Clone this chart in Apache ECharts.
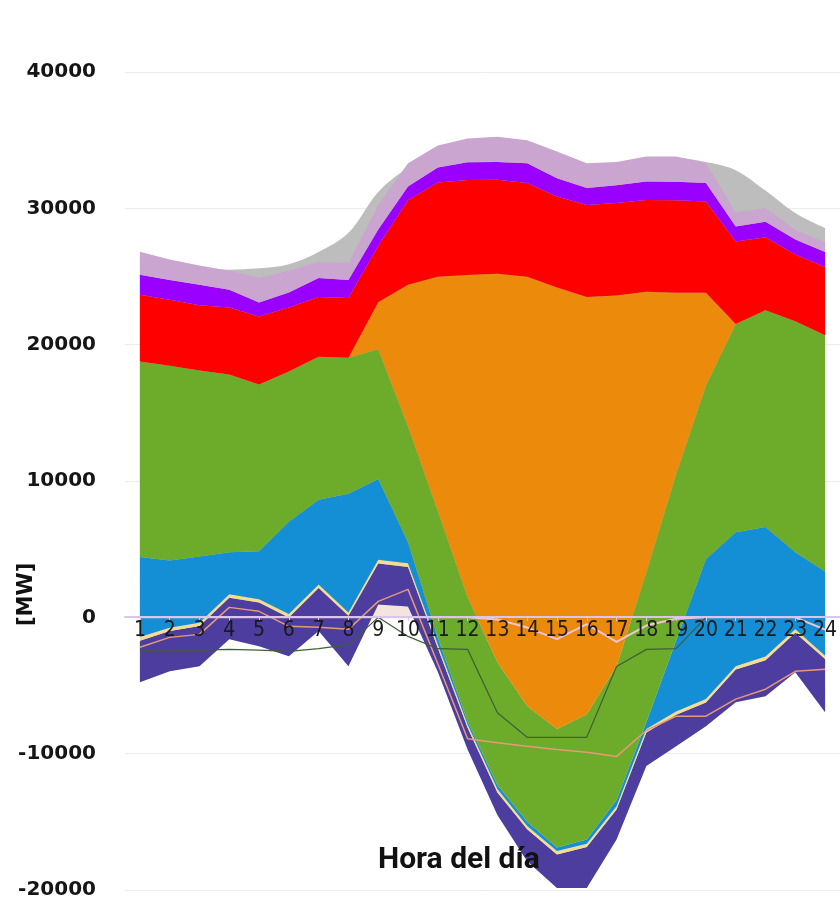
<!DOCTYPE html>
<html>
<head>
<meta charset="utf-8">
<script src="https://cdn.jsdelivr.net/npm/echarts@6.0.0/dist/echarts.min.js"></script>
<style>
html,body{margin:0;padding:0;background:#fff;}
#chart{width:840px;height:916px;}
</style>
</head>
<body>
<div id="chart"></div>
<script>
// ---- data (MW) ----
const hours = ['1','2','3','4','5','6','7','8','9','10','11','12','13','14','15','16','17','18','19','20','21','22','23','24'];
const yTicks = [-20000,-10000,0,10000,20000,30000,40000];

// stacked layers, bottom to top (stacked cumulatively)
const saldoBase = [-4760,-3960,-3590,-1610,-2120,-2860,-1000,-3590,950,800,-4000,-9700,-14500,-17900,-19850,-19850,-16300,-10900,-9450,-7990,-6230,-5790,-4030,-6960];
const bombeo    = [3050,2950,2950,3050,3200,2850,3150,3700,3000,2900,1750,1600,1650,2350,2450,3000,2200,2450,2300,1750,2400,2650,2900,3900];
const baterias  = [260,250,250,260,250,250,260,250,270,260,250,240,250,250,260,250,250,260,250,250,250,260,250,250];
const hidraulica= [5870,4930,4860,3080,3520,6780,6220,8710,5920,1540,500,240,300,300,250,300,450,500,5200,10250,9830,9500,5660,6170];
const eolica    = [14350,14280,13630,13040,12230,11020,10480,9970,9530,8500,9300,9100,9000,8500,8700,9200,9810,11000,12200,12750,15270,15900,16940,17330];
const solar     = [0,0,0,0,0,0,0,0,3440,10400,17180,23630,28500,31480,32380,30600,27190,20580,13310,6800,0,0,0,0];
const nuclear   = [4900,4840,4800,4900,4980,4680,4380,4390,4130,6200,6920,6970,6900,6870,6670,6750,6800,6720,6790,6700,6050,5350,4900,5000];
const cogen     = [1450,1450,1500,1300,1030,1100,1400,1320,1200,1000,1100,1300,1300,1450,1350,1250,1300,1350,1350,1350,1100,1150,1100,1100];
const otras     = [1700,1500,1400,1400,1820,1600,1200,1240,1800,1700,1600,1750,1850,1700,1950,1800,1700,1850,1850,1450,1050,1000,700,700];

// demand (smoothed area behind the stack)
const demanda   = [26500,26000,25700,25500,25600,25900,26800,28200,31200,33000,34300,34900,35000,34700,33900,33100,33200,33600,33700,33400,32800,31300,29650,28550];

// lines
const lineaOscura = [-2400,-2400,-2400,-2350,-2400,-2500,-2300,-2000,0,-1400,-2300,-2350,-7000,-8800,-8800,-8800,-3600,-2350,-2300,0,0,0,0,0];
const lineaSalmon = [-2200,-1470,-1250,730,440,-660,-730,-880,1170,2050,-3400,-8900,-9200,-9450,-9700,-9900,-10200,-8300,-7250,-7250,-6000,-5270,-3960,-3810];
const lineaRosa   = [0,0,0,0,0,0,0,0,0,0,0,0,-150,-750,-1600,-500,-1800,-600,-100,0,0,0,0,-900];

const layers = [
  {name:'Saldo', data:saldoBase, color:'#f3e5de'},
  {name:'Bombeo', data:bombeo, color:'#4c3d9e'},
  {name:'Baterías', data:baterias, color:'#f5dc8f'},
  {name:'Hidráulica', data:hidraulica, color:'#148fd6'},
  {name:'Eólica', data:eolica, color:'#6cac2a'},
  {name:'Solar', data:solar, color:'#eb8a0b'},
  {name:'Nuclear', data:nuclear, color:'#ff0000'},
  {name:'Cogeneración', data:cogen, color:'#9900ff'},
  {name:'Otras', data:otras, color:'#caa5d0'}
];

const series = [];
series.push({
  name:'Demanda', type:'line', data:demanda, smooth:0.35, symbol:'none',
  lineStyle:{width:0}, areaStyle:{color:'#bdbdbd', opacity:1}, z:1, silent:true
});
layers.forEach(l => series.push({
  name:l.name, type:'line', data:l.data, stack:'total', stackStrategy:'all',
  symbol:'none', lineStyle:{width:0}, areaStyle:{color:l.color, opacity:1}, z:2, silent:true
}));
series.push({name:'L1', type:'line', data:lineaRosa, symbol:'none', lineStyle:{color:'#f3c3d3', width:2}, z:3});
series.push({name:'L2', type:'line', data:lineaSalmon, symbol:'none', lineStyle:{color:'#e59a78', width:1.5}, z:3});
series.push({name:'L3', type:'line', data:lineaOscura, symbol:'none', lineStyle:{color:'#3f5f36', width:1.2}, z:3});

const gridTop = 72, gridH = 818;
const zeroOffset = -Math.round(gridH * (0 - yTicks[0]) / (yTicks[yTicks.length-1] - yTicks[0]));

const chart = echarts.init(document.getElementById('chart'));
chart.setOption({
  animation:false,
  backgroundColor:'#ffffff',
  grid:{left:125, top:gridTop, width:720, height:gridH, containLabel:false},
  xAxis:{
    type:'category', data:hours, boundaryGap:true, z:10,
    position:'bottom', offset:zeroOffset,
    axisLine:{onZero:false, lineStyle:{color:'#d8c6ee', width:2}},
    axisTick:{show:true, alignWithLabel:true, length:4, lineStyle:{color:'#d8c6ee'}},
    axisLabel:{margin:3, fontSize:21, fontWeight:500, color:'#1a1a1a', fontFamily:"'DejaVu Sans Condensed','Liberation Sans Narrow',Roboto,sans-serif", interval:0},
    splitLine:{show:false}
  },
  yAxis:{
    type:'value', min:yTicks[0], max:yTicks[yTicks.length-1], interval:10000,
    axisLine:{show:false}, axisTick:{show:false},
    axisLabel:{margin:29, fontSize:20, fontWeight:'bold', color:'#151515', fontFamily:"'DejaVu Sans',sans-serif",
      formatter: v => String(v)},
    splitLine:{lineStyle:{color:'#ececec', width:1}}
  },
  graphic:[
    {type:'text', z:100, left:378, top:845, style:{text:'Hora del día', font:"bold 30px Roboto, 'DejaVu Sans', sans-serif", fill:'#111'}},
    {type:'text', z:100, x:16, y:626, rotation:Math.PI/2, style:{text:'[MW]', font:"bold 21px 'DejaVu Sans', sans-serif", fill:'#111'}}
  ],
  series:series
});
</script>
</body>
</html>
